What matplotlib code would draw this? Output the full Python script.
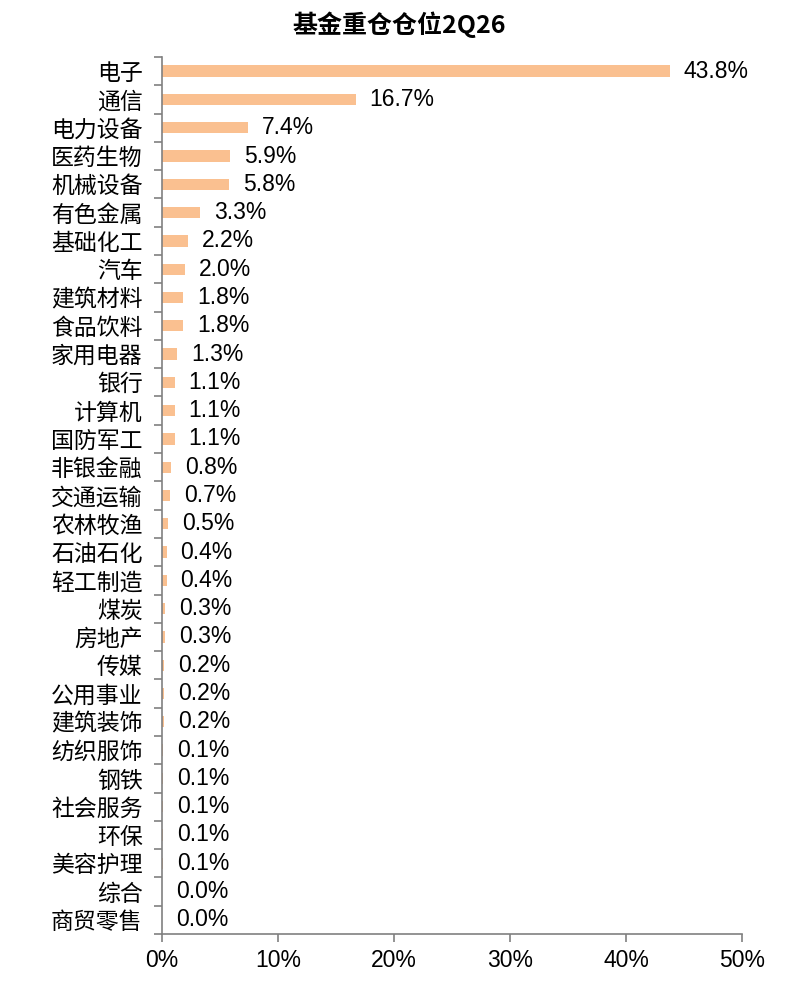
import numpy as np
import matplotlib.pyplot as plt
from matplotlib.ticker import FuncFormatter, FixedLocator

plt.rcParams['font.family'] = ['Liberation Sans', 'Noto Sans CJK SC', 'DejaVu Sans']

industries = ['电子', '通信', '电力设备', '医药生物', '机械设备', '有色金属', '基础化工', '汽车',
              '建筑材料', '食品饮料', '家用电器', '银行', '计算机', '国防军工', '非银金融', '交通运输',
              '农林牧渔', '石油石化', '轻工制造', '煤炭', '房地产', '传媒', '公用事业', '建筑装饰',
              '纺织服饰', '钢铁', '社会服务', '环保', '美容护理', '综合', '商贸零售']
weights = [43.8, 16.7, 7.4, 5.9, 5.8, 3.3, 2.2, 2.0, 1.8, 1.8, 1.3, 1.1, 1.1, 1.1, 0.8, 0.7,
           0.5, 0.4, 0.4, 0.3, 0.3, 0.2, 0.2, 0.2, 0.1, 0.1, 0.1, 0.1, 0.1, 0.0, 0.0]

fig = plt.figure(figsize=(7.95, 9.96), dpi=100)
ax = fig.add_axes([162 / 795, 1 - 934 / 996, 580 / 795, 877 / 996])

y = np.arange(len(industries))
ax.barh(y, weights, height=0.4, color='#FAC090')
for yi, w in zip(y, weights):
    ax.text(w + 1.2, yi, f'{w:.1f}%', va='center', ha='left', fontsize=16.5, color='black')

ax.set_xlim(0, 50)
ax.set_ylim(len(industries) - 0.5, -0.5)
ax.set_xticks(np.arange(0, 51, 10))
ax.xaxis.set_major_formatter(FuncFormatter(lambda v, p: f'{v:.0f}%'))
ax.set_yticks(y)
ax.set_yticklabels(industries, fontsize=16.5, family=['Noto Sans CJK SC'])
ax.tick_params(axis='y', length=0, pad=14)
ax.yaxis.set_minor_locator(FixedLocator(np.arange(-0.5, len(industries), 1)))
ax.tick_params(axis='y', which='minor', length=6, color='#808080', width=1.2)
ax.tick_params(axis='x', length=6, color='#808080', width=1.2, labelsize=16.5, pad=5)

for s in ['top', 'right']:
    ax.spines[s].set_visible(False)
for s in ['left', 'bottom']:
    ax.spines[s].set_color('#808080')
    ax.spines[s].set_linewidth(1.2)

fig.text(399 / 795, 1 - 25 / 996, '基金重仓仓位2Q26', ha='center', va='center',
         fontsize=18, fontweight='bold', family=['Noto Sans CJK SC'])

fig.savefig('out.png', dpi=100)
